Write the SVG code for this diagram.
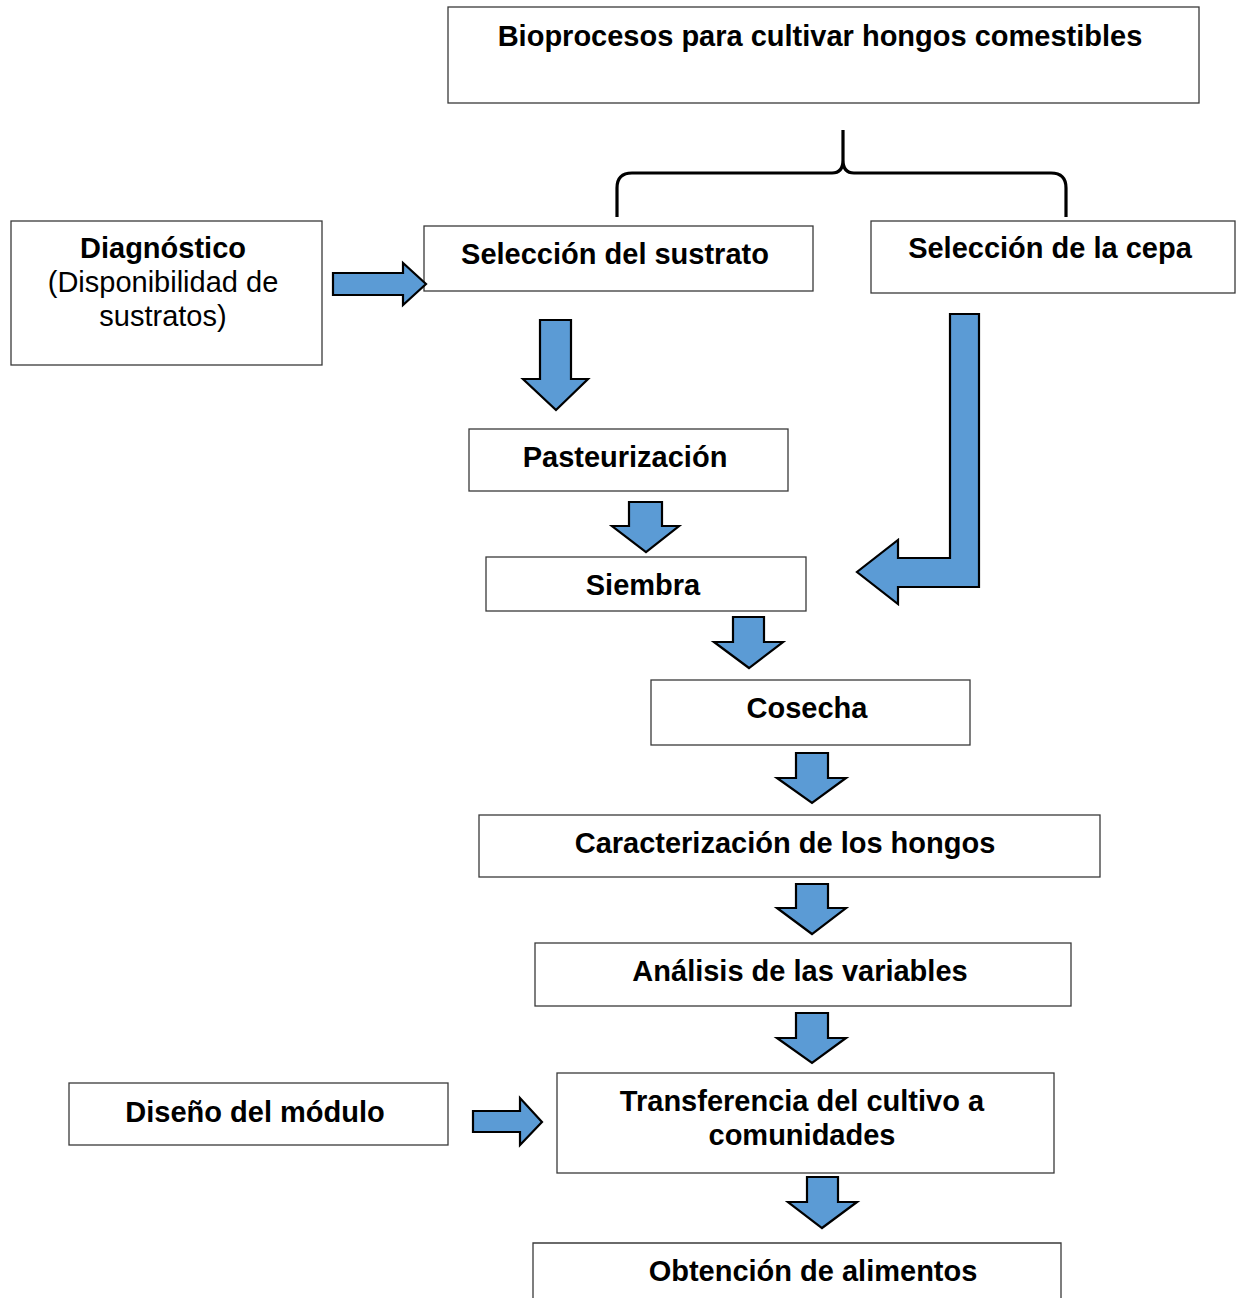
<svg xmlns="http://www.w3.org/2000/svg" width="1238" height="1298" viewBox="0 0 1238 1298">
<style>
.box{fill:#ffffff;stroke:#3a3a3a;stroke-width:1.3}
.t{font-family:"Liberation Sans",Arial,sans-serif;font-size:29px;font-weight:bold;fill:#000;text-anchor:middle}
.r{font-family:"Liberation Sans",Arial,sans-serif;font-size:29px;fill:#000;text-anchor:middle}
.arr{fill:#5B9BD5;stroke:#000;stroke-width:2.2;stroke-linejoin:miter}
.brace{fill:none;stroke:#000;stroke-width:3.2}
</style>
<rect width="1238" height="1298" fill="#ffffff"/>
<g id="n-title"><rect class="box" x="448" y="7" width="751" height="96"/><text class="t" x="820" y="46">Bioprocesos para cultivar hongos comestibles</text></g>
<g id="n-diag"><rect class="box" x="11" y="221" width="311" height="144"/><text class="t" x="163" y="258">Diagnóstico</text><text class="r" x="163" y="292">(Disponibilidad de</text><text class="r" x="163" y="326">sustratos)</text></g>
<g id="n-sustrato"><rect class="box" x="424" y="226" width="389" height="65"/><text class="t" x="615" y="264">Selección del sustrato</text></g>
<g id="n-cepa"><rect class="box" x="871" y="221" width="364" height="72"/><text class="t" x="1050" y="258">Selección de la cepa</text></g>
<g id="n-pasteur"><rect class="box" x="469" y="429" width="319" height="62"/><text class="t" x="625" y="467">Pasteurización</text></g>
<g id="n-siembra"><rect class="box" x="486" y="557" width="320" height="54"/><text class="t" x="643" y="595">Siembra</text></g>
<g id="n-cosecha"><rect class="box" x="651" y="680" width="319" height="65"/><text class="t" x="807" y="718">Cosecha</text></g>
<g id="n-caract"><rect class="box" x="479" y="815" width="621" height="62"/><text class="t" x="785" y="853">Caracterización de los hongos</text></g>
<g id="n-analisis"><rect class="box" x="535" y="943" width="536" height="63"/><text class="t" x="800" y="981">Análisis de las variables</text></g>
<g id="n-diseno"><rect class="box" x="69" y="1083" width="379" height="62"/><text class="t" x="255" y="1122">Diseño del módulo</text></g>
<g id="n-transf"><rect class="box" x="557" y="1073" width="497" height="100"/><text class="t" x="802" y="1111">Transferencia del cultivo a</text><text class="t" x="802" y="1145">comunidades</text></g>
<g id="n-obt"><path class="box" d="M533,1300 V1243 H1061 V1300"/><text class="t" x="813" y="1281">Obtención de alimentos</text></g>
<g id="connectors">
<path class="brace" d="M617,217 V188 Q617,173 632,173 H832 Q843,173 843,160 V130 M843,160 Q843,173 854,173 H1051 Q1066,173 1066,188 V217"/>
<polygon class="arr" points="333,273 403,273 403,263 426,284 403,305 403,295 333,295"/>
<polygon class="arr" points="473,1111 520,1111 520,1098 542,1122 520,1145 520,1132 473,1132"/>
<polygon class="arr" points="950,314 979,314 979,587 898,587 898,604 857,572 898,540 898,558 950,558"/>
<polygon class="arr" points="540,320 571,320 571,379 588,379 556,410 523,379 540,379"/>
<polygon class="arr" points="629,502 662,502 662,526 679,526 646,552 612,526 629,526"/>
<polygon class="arr" points="733,617 764,617 764,642 783,642 749,668 714,642 733,642"/>
<polygon class="arr" points="796,753 828,753 828,778 846,778 812,803 777,778 796,778"/>
<polygon class="arr" points="796,884 828,884 828,908 846,908 812,934 777,908 796,908"/>
<polygon class="arr" points="796,1013 828,1013 828,1038 846,1038 812,1063 777,1038 796,1038"/>
<polygon class="arr" points="807,1177 838,1177 838,1202 857,1202 822,1228 788,1202 807,1202"/>
</g>
</svg>
